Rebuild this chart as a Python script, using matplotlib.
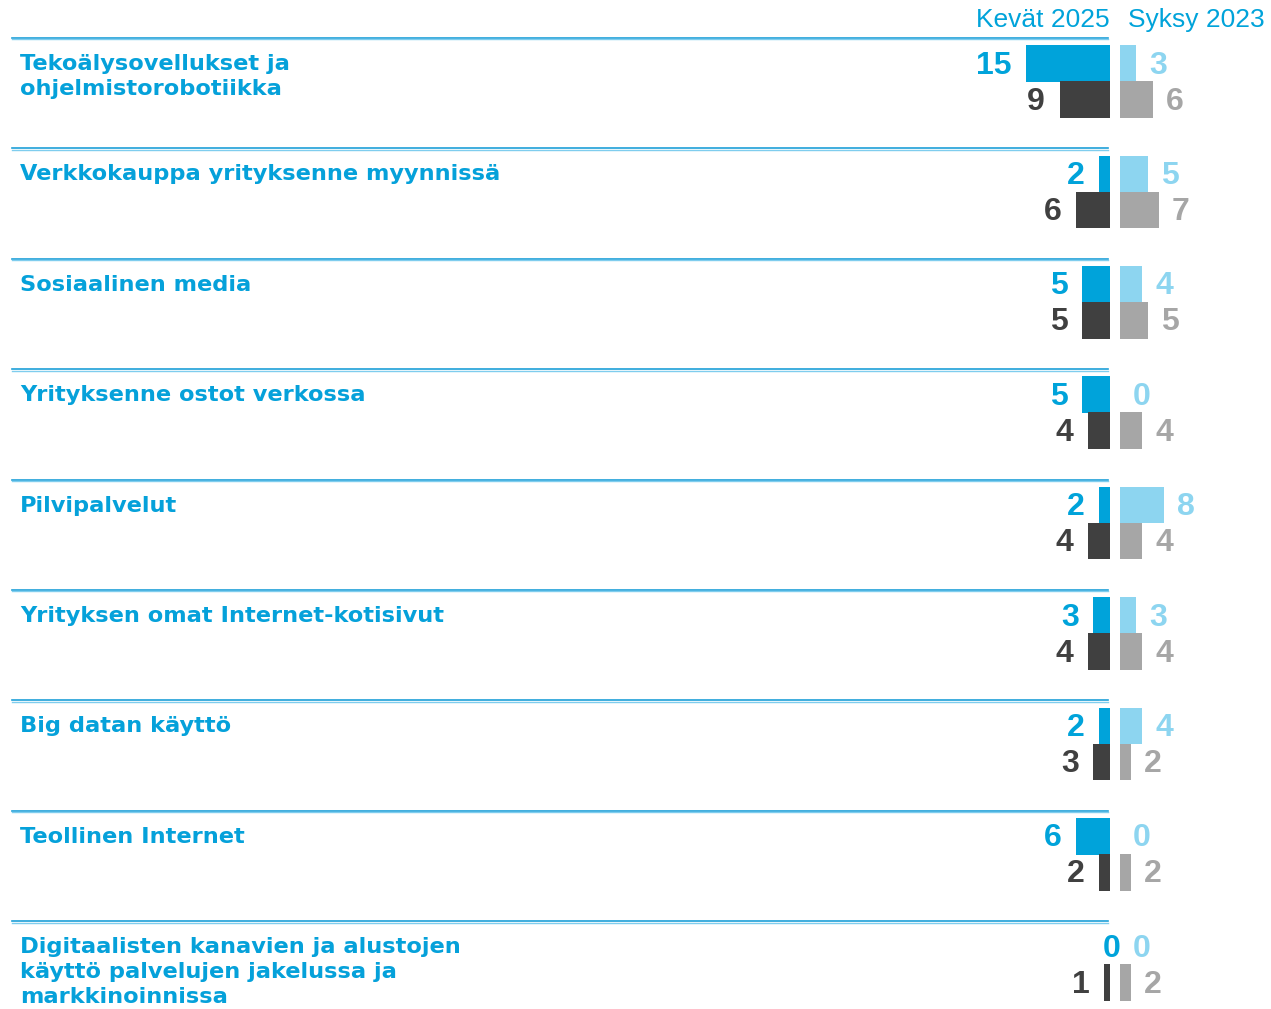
import numpy as np
import matplotlib
matplotlib.use("Agg")
import matplotlib.pyplot as plt

# data
categories = [
    "Tekoälysovellukset ja\nohjelmistorobotiikka",
    "Verkkokauppa yrityksenne myynnissä",
    "Sosiaalinen media",
    "Yrityksenne ostot verkossa",
    "Pilvipalvelut",
    "Yrityksen omat Internet-kotisivut",
    "Big datan käyttö",
    "Teollinen Internet",
    "Digitaalisten kanavien ja alustojen\nkäyttö palvelujen jakelussa ja\nmarkkinoinnissa",
]
kevat_top = [15, 2, 5, 5, 2, 3, 2, 6, 0]
kevat_bot = [9, 6, 5, 4, 4, 4, 3, 2, 1]
syksy_top = [3, 5, 4, 0, 8, 3, 4, 0, 0]
syksy_bot = [6, 7, 5, 4, 4, 4, 2, 2, 2]
headers = ["Kevät 2025", "Syksy 2023"]

BLUE = "#00A3DA"
LIGHT = "#8DD5F0"
DARK = "#404040"
GRAY = "#A6A6A6"

W, H = 1271, 1009
PX_UNIT = 5.6      # pixels per value unit
ROW = 110.4        # row pitch in pixels
TOP = 38           # first separator

fig = plt.figure(figsize=(W / 100, H / 100), dpi=100)

ax_l = fig.add_axes([12 / W, 0, (1110 - 12) / W, (H - TOP) / H])
ax_r = fig.add_axes([1119.5 / W, 0, (W - 1119.5) / W, (H - TOP) / H])

ymax = (H - TOP) / ROW
ax_l.set_xlim((1110 - 12) / PX_UNIT, 0)
ax_r.set_xlim(0, (W - 1119.5) / PX_UNIT)
for ax in (ax_l, ax_r):
    ax.set_ylim(ymax, 0)
    ax.axis("off")

n = len(categories)
rows = np.arange(n)
y_top = rows + 25.5 / ROW
y_bot = rows + 61.5 / ROW
bh = 36.5 / ROW

ax_l.barh(y_top, kevat_top, height=bh, color=BLUE)
ax_l.barh(y_bot, kevat_bot, height=bh, color=DARK)
ax_r.barh(y_top, syksy_top, height=bh, color=LIGHT)
ax_r.barh(y_bot, syksy_bot, height=bh, color=GRAY)

vfont = dict(family="Liberation Sans", fontweight="bold", fontsize=23)
off = 10.5
dy = -1.5
for i in range(n):
    # zero on the left side sits just right of the axis line, like in the original
    if kevat_top[i] == 0:
        xt = (8, dy)
    else:
        xt = (-off, dy)
    ax_l.annotate(str(kevat_top[i]), xy=(kevat_top[i], y_top[i]), xytext=xt,
                  textcoords="offset points", ha="right", va="center", color=BLUE, **vfont)
    ax_l.annotate(str(kevat_bot[i]), xy=(kevat_bot[i], y_bot[i]), xytext=(-off, dy),
                  textcoords="offset points", ha="right", va="center", color=DARK, **vfont)
    ax_r.annotate(str(syksy_top[i]), xy=(syksy_top[i], y_top[i]), xytext=(off - 1, dy),
                  textcoords="offset points", ha="left", va="center", color=LIGHT, **vfont)
    ax_r.annotate(str(syksy_bot[i]), xy=(syksy_bot[i], y_bot[i]), xytext=(off - 1, dy),
                  textcoords="offset points", ha="left", va="center", color=GRAY, **vfont)

    # separator (double line)
    ax_l.axhline(i, xmin=0, xmax=1096 / 1098, color="#1E9FD8", lw=1.2, clip_on=False)
    ax_l.axhline(i + 1.4 / ROW, xmin=0, xmax=1096 / 1098, color="#7FCDEE", lw=1.0, clip_on=False)

    ax_l.text(8 / 1098, i + 16 / ROW, categories[i], transform=ax_l.get_yaxis_transform(),
              ha="left", va="top", color="#05A1DA", family="DejaVu Sans",
              fontweight="bold", fontsize=16.2, linespacing=1.32)

fig.text(1110 / W, 1 - 20 / H, headers[0], ha="right", va="center",
         color=BLUE, family="Liberation Sans", fontsize=19)
fig.text(1128 / W, 1 - 20 / H, headers[1], ha="left", va="center",
         color=BLUE, family="Liberation Sans", fontsize=19)

fig.savefig("out.png", dpi=100)
